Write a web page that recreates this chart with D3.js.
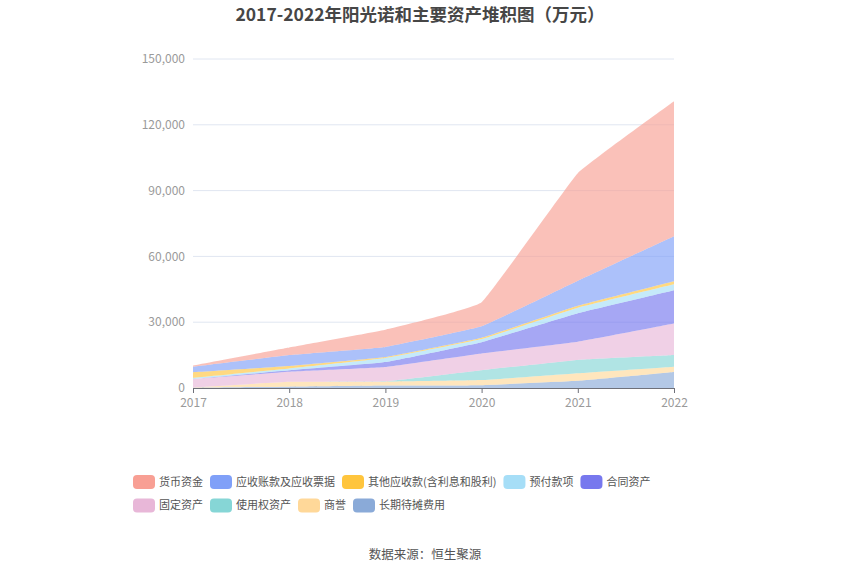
<!DOCTYPE html>
<html><head><meta charset="utf-8">
<script src="https://cdn.jsdelivr.net/npm/d3@7/dist/d3.min.js"></script>
<style>body{margin:0;background:#fff;} svg{font-family:"Noto Sans CJK SC","Noto Sans",sans-serif;}</style>
</head><body>
<svg id="c" width="850" height="575"></svg>
<script>
const years = ['2017','2018','2019','2020','2021','2022'];
const seriesNames = ['货币资金','应收账款及应收票据','其他应收款(含利息和股利)','预付款项','合同资产','固定资产','使用权资产','商誉','长期待摊费用'];
const cash        = [600, 3500, 7900, 11000, 49000, 61500];
const receivables = [2500, 5000, 4600, 5200, 11400, 20500];
const otherRecv   = [2600, 1100, 450, 600, 900, 1400];
const prepay      = [500, 800, 1800, 1400, 2500, 2700];
const contract    = [0, 700, 2300, 5200, 13000, 15200];
const fixedAssets = [3900, 4600, 6500, 7600, 8300, 14400];
const rouAssets   = [0, 0, 150, 4500, 6100, 5300];
const goodwill    = [100, 2200, 1800, 2300, 3400, 2400];
const ltPrepaid   = [100, 600, 1100, 1300, 3300, 7300];
const yTicks = [0, 30000, 60000, 90000, 120000, 150000];
const colors = ['#F89F94','#80A0F8','#FFC53D','#A6DEF7','#7778EE','#E8B7D8','#86D6D6','#FFD899','#8AAAD8'];

const seriesValues = [cash, receivables, otherRecv, prepay, contract, fixedAssets, rouAssets, goodwill, ltPrepaid];
const svg = d3.select('#c');
const m = {l:193, r:674, t:59, b:388};

const x = d3.scalePoint().domain(years).range([m.l, m.r]);
const y = d3.scaleLinear().domain([0,150000]).range([m.b, m.t]);

const table = years.map((yr,i)=>{ const o={year:yr}; seriesNames.forEach((n,k)=>o[n]=seriesValues[k][i]); return o; });
const stackOrder = seriesNames.slice().reverse();
const stacked = d3.stack().keys(stackOrder)(table);

svg.append('g').selectAll('line').data(yTicks.filter(d=>d>0)).join('line')
  .attr('x1',m.l).attr('x2',m.r).attr('y1',d=>y(d)).attr('y2',d=>y(d))
  .attr('stroke','#E0E6F1').attr('stroke-width',1);

const area = d3.area().x(d=>x(d.data.year)).y0(d=>y(d[0])).y1(d=>y(d[1])).curve(d3.curveCardinal.tension(0.75));
svg.append('g').selectAll('path').data(stacked).join('path')
  .attr('d',area)
  .attr('fill',d=>colors[seriesNames.indexOf(d.key)])
  .attr('fill-opacity',0.65);

svg.append('g').selectAll('text').data(yTicks).join('text')
  .attr('x',m.l-8).attr('y',d=>y(d)).attr('dy','0.35em').attr('text-anchor','end')
  .attr('font-size',12).attr('fill','#9a9a9a')
  .text(d=>d3.format(',')(d));

const xa = svg.append('g').attr('transform',`translate(0,${m.b})`)
  .call(d3.axisBottom(x).tickSize(5).tickSizeOuter(0));
xa.select('.domain').attr('stroke','#6E7079');
xa.selectAll('.tick line').attr('stroke','#6E7079');
xa.selectAll('.tick text').attr('fill','#9a9a9a').attr('font-size',12).attr('y',9).attr('dy','0.85em')
  .attr('font-family','"Noto Sans CJK SC","Noto Sans",sans-serif');

svg.append('text').attr('x',420).attr('y',21).attr('text-anchor','middle')
  .attr('font-size',17.5).attr('font-weight','bold').attr('fill','#464646')
  .text('2017-2022年阳光诺和主要资产堆积图（万元）');

const lg = svg.append('g');
let lx = 133, ly = 482;
const maxX = 700;
seriesNames.forEach((n,i)=>{
  const g = lg.append('g');
  const t = g.append('text').attr('font-size',11).attr('fill','#555').attr('dy','0.35em').text(n);
  const w = 22 + 4 + t.node().getComputedTextLength();
  if (lx + w > maxX) { lx = 133; ly += 23.5; }
  g.append('rect').attr('x',lx).attr('y',ly-7).attr('width',22).attr('height',14).attr('rx',4)
    .attr('fill',colors[i]);
  t.attr('x',lx+26).attr('y',ly);
  lx += w + 7;
});

svg.append('text').attr('x',425).attr('y',559).attr('text-anchor','middle')
  .attr('font-size',12.5).attr('fill','#555').text('数据来源：恒生聚源');
</script>
</body></html>
